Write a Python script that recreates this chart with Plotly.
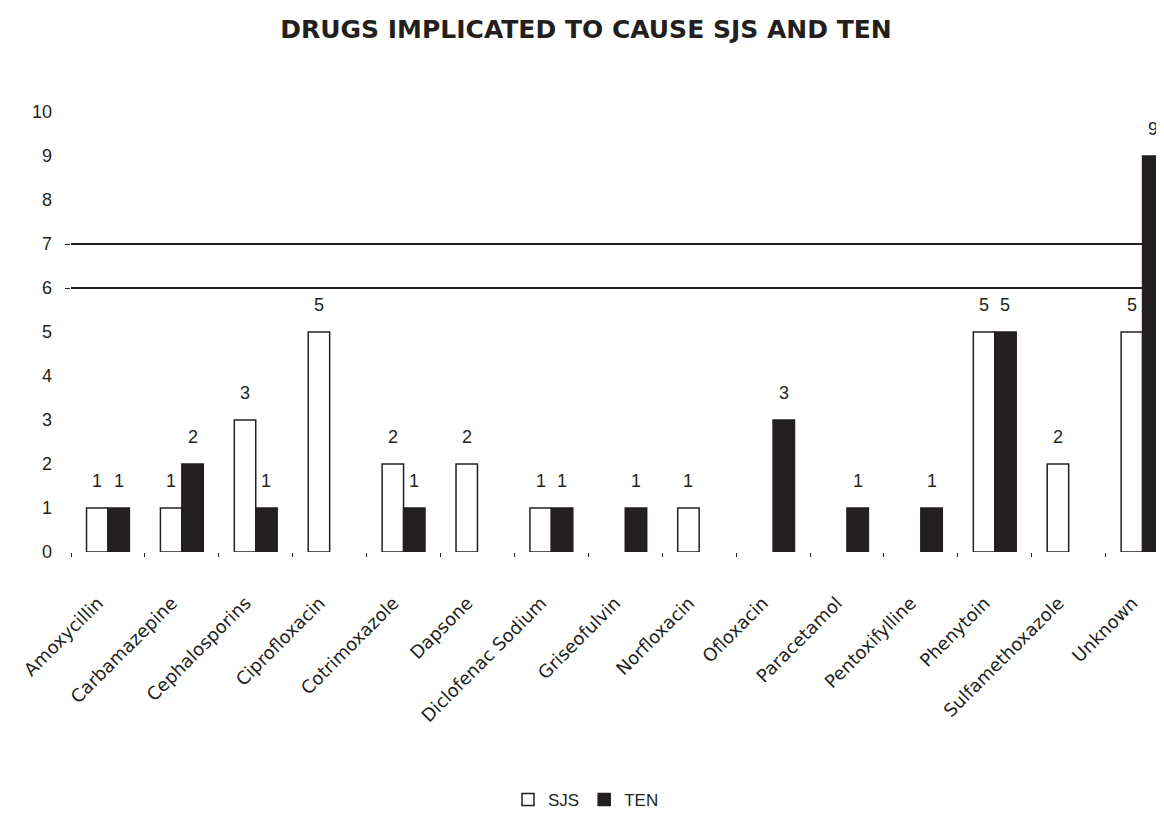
import plotly.graph_objects as go

drugs = ["Amoxycillin", "Carbamazepine", "Cephalosporins", "Ciprofloxacin",
         "Cotrimoxazole", "Dapsone", "Diclofenac Sodium", "Griseofulvin",
         "Norfloxacin", "Ofloxacin", "Paracetamol", "Pentoxifylline",
         "Phenytoin", "Sulfamethoxazole", "Unknown"]
sjs = [1, 1, 3, 5, 2, 2, 1, 0, 1, 0, 0, 0, 5, 2, 5]
ten = [1, 2, 1, 0, 1, 0, 1, 1, 0, 3, 1, 1, 5, 0, 9]
y_ticks = list(range(0, 11))
grid_levels = [6, 7]

FONT = "Liberation Sans, Arial, sans-serif"
WIDE = "DejaVu Sans, Liberation Sans, sans-serif"
INK = "#231f20"

W, H = 1156, 807
ML, MR, MT, MB = 63, 0, 104, 263
X_RANGE = [-0.5, 14.29]
BARGAP = 0.42


def nz(vals):
    return [v if v else None for v in vals]


fig = go.Figure()
fig.add_trace(go.Bar(
    name="SJS", x=drugs, y=nz(sjs),
    marker=dict(color="white", line=dict(color=INK, width=1.5)),
))
fig.add_trace(go.Bar(
    name="TEN", x=drugs, y=nz(ten),
    marker=dict(color=INK, line=dict(color=INK, width=1.5)),
))
# invisible trace carrying the secondary y axis (gridlines at 6 and 7)
fig.add_trace(go.Scatter(x=[drugs[0]], y=[None], yaxis="y2", showlegend=False,
                         hoverinfo="skip", mode="markers"))

# value labels above each bar (offset to the bar within its group)
step_px = (W - ML - MR) / (X_RANGE[1] - X_RANGE[0])
half_bar = step_px * (1 - BARGAP) / 4
for series, dx in ((sjs, -half_bar), (ten, half_bar)):
    for d, v in zip(drugs, series):
        if v:
            fig.add_annotation(x=d, y=v, text=str(v), showarrow=False,
                               xshift=dx, yshift=27, yanchor="middle",
                               font=dict(family=FONT, size=18, color=INK))

fig.update_layout(
    width=W, height=H,
    paper_bgcolor="white", plot_bgcolor="white",
    margin=dict(l=ML, r=MR, t=MT, b=MB),
    barmode="group", bargap=BARGAP, bargroupgap=0.0,
    title=dict(text="<b>DRUGS IMPLICATED TO CAUSE SJS AND TEN</b>",
               x=0.5, xref="container", xanchor="center",
               y=0.974, yref="container", yanchor="middle",
               font=dict(family="DejaVu Sans, Liberation Sans, sans-serif",
                         size=25, color=INK)),
    font=dict(family=FONT, color=INK),
    xaxis=dict(
        type="category", range=X_RANGE,
        tickangle=-45, tickfont=dict(family=WIDE, size=18, color=INK),
        showgrid=False, showline=False, zeroline=False,
        tickson="boundaries", ticks="outside", ticklen=4, tickwidth=1.2,
        tickcolor=INK, ticklabelstandoff=36, ticklabelshift=-10,
    ),
    yaxis=dict(
        range=[0, 10], tickvals=y_ticks, ticks="",
        showgrid=False, showline=False, zeroline=False,
        tickfont=dict(family=FONT, size=18, color=INK), ticklabelstandoff=18,
    ),
    yaxis2=dict(
        overlaying="y", side="left", range=[0, 10], tickvals=grid_levels,
        showticklabels=False, showgrid=True, gridcolor=INK, gridwidth=1.5,
        ticks="outside", ticklen=5, tickcolor=INK, zeroline=False, showline=False,
    ),
    legend=dict(orientation="h", x=0.5, xref="container", xanchor="center",
                y=0.0186, yref="container", yanchor="middle",
                font=dict(family=FONT, size=17, color=INK),
                itemwidth=30, tracegroupgap=0),
    showlegend=True,
)

fig.write_html("out.html")
